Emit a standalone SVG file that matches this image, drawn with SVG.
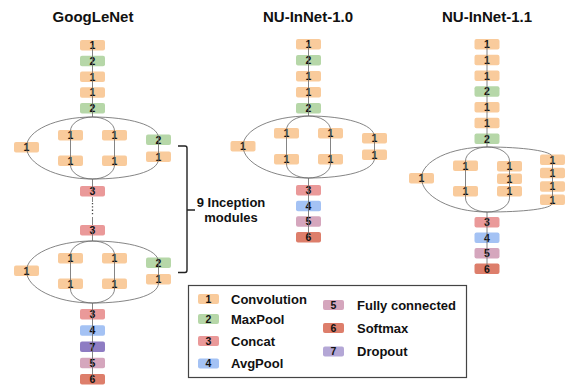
<svg xmlns="http://www.w3.org/2000/svg" width="571" height="385" viewBox="0 0 571 385">
<style>
text{font-family:"Liberation Sans",Arial,sans-serif;font-weight:bold;fill:#111}
.t{font-size:15px;text-anchor:middle}
.d{font-size:10.5px;text-anchor:middle}
.l{font-size:13px}
.c1{fill:#F9CB9C}.c2{fill:#B6D7A8}.c3{fill:#EA9999}.c4{fill:#A4C2F4}.c5{fill:#D5A6BD}.c6{fill:#DD7E6B}.c7{fill:#8E7CC3}.c7l{fill:#B4A7D6}
.ln{fill:none;stroke:#666;stroke-width:0.8}
.br{fill:none;stroke:#222;stroke-width:1.4}
</style>
<defs>
<rect id="b" width="25" height="10.5" rx="2"/>
<rect id="s" width="21" height="10" rx="2"/>
</defs>
<rect width="571" height="385" fill="#fff"/>
<g id="titles">
<text class="t" x="93" y="22">GoogLeNet</text>
<text class="t" x="308" y="22">NU-InNet-1.0</text>
<text class="t" x="487" y="22">NU-InNet-1.1</text>
</g>
<g id="googlenet">
<g id="g1"><use href="#b" class="c1" x="80" y="40"/><text class="d" x="92.5" y="49">1</text></g>
<g id="g2"><use href="#b" class="c2" x="80" y="55.75"/><text class="d" x="92.5" y="64.75">2</text></g>
<g id="g3"><use href="#b" class="c1" x="80" y="71.5"/><text class="d" x="92.5" y="80.5">1</text></g>
<g id="g4"><use href="#b" class="c1" x="80" y="87.25"/><text class="d" x="92.5" y="96.25">1</text></g>
<g id="g5"><use href="#b" class="c2" x="80" y="103"/><text class="d" x="92.5" y="112">2</text></g>
<g id="gm1a"><use href="#b" class="c1" x="14" y="142"/><text class="d" x="26.5" y="151">1</text></g>
<g id="gm1b"><use href="#b" class="c1" x="58" y="130"/><text class="d" x="70.5" y="139">1</text></g>
<g id="gm1c"><use href="#b" class="c1" x="58" y="155.5"/><text class="d" x="70.5" y="164.5">1</text></g>
<g id="gm1d"><use href="#b" class="c1" x="102" y="130"/><text class="d" x="114.5" y="139">1</text></g>
<g id="gm1e"><use href="#b" class="c1" x="102" y="155.5"/><text class="d" x="114.5" y="164.5">1</text></g>
<g id="gm1f"><use href="#b" class="c2" x="146" y="134.5"/><text class="d" x="158.5" y="143.5">2</text></g>
<g id="gm1g"><use href="#b" class="c1" x="146" y="151.5"/><text class="d" x="158.5" y="160.5">1</text></g>
<g id="g6"><use href="#b" class="c3" x="80" y="186"/><text class="d" x="92.5" y="195">3</text></g>
<g id="g7"><use href="#b" class="c3" x="80" y="225"/><text class="d" x="92.5" y="234">3</text></g>
<g id="gm2a"><use href="#b" class="c1" x="14" y="265.5"/><text class="d" x="26.5" y="274.5">1</text></g>
<g id="gm2b"><use href="#b" class="c1" x="58" y="253"/><text class="d" x="70.5" y="262">1</text></g>
<g id="gm2c"><use href="#b" class="c1" x="58" y="278.5"/><text class="d" x="70.5" y="287.5">1</text></g>
<g id="gm2d"><use href="#b" class="c1" x="102" y="253"/><text class="d" x="114.5" y="262">1</text></g>
<g id="gm2e"><use href="#b" class="c1" x="102" y="278.5"/><text class="d" x="114.5" y="287.5">1</text></g>
<g id="gm2f"><use href="#b" class="c2" x="146" y="257.5"/><text class="d" x="158.5" y="266.5">2</text></g>
<g id="gm2g"><use href="#b" class="c1" x="146" y="274"/><text class="d" x="158.5" y="283">1</text></g>
<g id="g8"><use href="#b" class="c3" x="80" y="309"/><text class="d" x="92.5" y="318">3</text></g>
<g id="g9"><use href="#b" class="c4" x="80" y="325.25"/><text class="d" x="92.5" y="334.25">4</text></g>
<g id="g10"><use href="#b" class="c7" x="80" y="341.5"/><text class="d" x="92.5" y="350.5">7</text></g>
<g id="g11"><use href="#b" class="c5" x="80" y="357.75"/><text class="d" x="92.5" y="366.75">5</text></g>
<g id="g12"><use href="#b" class="c6" x="80" y="374"/><text class="d" x="92.5" y="383">6</text></g>
</g>
<g id="nu10">
<g id="n1"><use href="#b" class="c1" x="296" y="39"/><text class="d" x="308.5" y="48">1</text></g>
<g id="n2"><use href="#b" class="c2" x="296" y="55"/><text class="d" x="308.5" y="64">2</text></g>
<g id="n3"><use href="#b" class="c1" x="296" y="71"/><text class="d" x="308.5" y="80">1</text></g>
<g id="n4"><use href="#b" class="c1" x="296" y="87"/><text class="d" x="308.5" y="96">1</text></g>
<g id="n5"><use href="#b" class="c2" x="296" y="103"/><text class="d" x="308.5" y="112">2</text></g>
<g id="nma"><use href="#b" class="c1" x="230.5" y="141"/><text class="d" x="243" y="150">1</text></g>
<g id="nmb"><use href="#b" class="c1" x="274" y="128"/><text class="d" x="286.5" y="137">1</text></g>
<g id="nmc"><use href="#b" class="c1" x="274" y="154"/><text class="d" x="286.5" y="163">1</text></g>
<g id="nmd"><use href="#b" class="c1" x="318" y="128"/><text class="d" x="330.5" y="137">1</text></g>
<g id="nme"><use href="#b" class="c1" x="318" y="154"/><text class="d" x="330.5" y="163">1</text></g>
<g id="nmf"><use href="#b" class="c1" x="362" y="133"/><text class="d" x="374.5" y="142">1</text></g>
<g id="nmg"><use href="#b" class="c1" x="362" y="149.5"/><text class="d" x="374.5" y="158.5">1</text></g>
<g id="n6"><use href="#b" class="c3" x="296" y="185"/><text class="d" x="308.5" y="194">3</text></g>
<g id="n7"><use href="#b" class="c4" x="296" y="200.7"/><text class="d" x="308.5" y="209.7">4</text></g>
<g id="n8"><use href="#b" class="c5" x="296" y="216.3"/><text class="d" x="308.5" y="225.3">5</text></g>
<g id="n9"><use href="#b" class="c6" x="296" y="232"/><text class="d" x="308.5" y="241">6</text></g>
</g>
<g id="nu11">
<g id="m1"><use href="#b" class="c1" x="474.5" y="39"/><text class="d" x="487" y="48">1</text></g>
<g id="m2"><use href="#b" class="c1" x="474.5" y="54.75"/><text class="d" x="487" y="63.75">1</text></g>
<g id="m3"><use href="#b" class="c1" x="474.5" y="70.5"/><text class="d" x="487" y="79.5">1</text></g>
<g id="m4"><use href="#b" class="c2" x="474.5" y="86.25"/><text class="d" x="487" y="95.25">2</text></g>
<g id="m5"><use href="#b" class="c1" x="474.5" y="102"/><text class="d" x="487" y="111">1</text></g>
<g id="m6"><use href="#b" class="c1" x="474.5" y="117.75"/><text class="d" x="487" y="126.75">1</text></g>
<g id="m7"><use href="#b" class="c2" x="474.5" y="133.5"/><text class="d" x="487" y="142.5">2</text></g>
<g id="mma"><use href="#b" class="c1" x="409" y="173"/><text class="d" x="421.5" y="182">1</text></g>
<g id="mmb"><use href="#b" class="c1" x="453" y="160.5"/><text class="d" x="465.5" y="169.5">1</text></g>
<g id="mmc"><use href="#b" class="c1" x="453" y="186"/><text class="d" x="465.5" y="195">1</text></g>
<g id="mmd"><use href="#b" class="c1" x="497" y="161"/><text class="d" x="509.5" y="170">1</text></g>
<g id="mme"><use href="#b" class="c1" x="497" y="173.5"/><text class="d" x="509.5" y="182.5">1</text></g>
<g id="mmf"><use href="#b" class="c1" x="497" y="186"/><text class="d" x="509.5" y="195">1</text></g>
<g id="mmg"><use href="#b" class="c1" x="540" y="154.5"/><text class="d" x="552.5" y="163.5">1</text></g>
<g id="mmh"><use href="#b" class="c1" x="540" y="167.8"/><text class="d" x="552.5" y="176.8">1</text></g>
<g id="mmi"><use href="#b" class="c1" x="540" y="181.2"/><text class="d" x="552.5" y="190.2">1</text></g>
<g id="mmj"><use href="#b" class="c1" x="540" y="194.5"/><text class="d" x="552.5" y="203.5">1</text></g>
<g id="m8"><use href="#b" class="c3" x="474.5" y="217"/><text class="d" x="487" y="226">3</text></g>
<g id="m9"><use href="#b" class="c4" x="474.5" y="232.5"/><text class="d" x="487" y="241.5">4</text></g>
<g id="m10"><use href="#b" class="c5" x="474.5" y="248"/><text class="d" x="487" y="257">5</text></g>
<g id="m11"><use href="#b" class="c6" x="474.5" y="263.5"/><text class="d" x="487" y="272.5">6</text></g>
</g>
<g id="connectors">
<line class="ln" x1="92.5" y1="45" x2="92.5" y2="117"/>
<line class="ln" x1="92.5" y1="179" x2="92.5" y2="191"/>
<line class="ln" x1="92.5" y1="197" x2="92.5" y2="202"/>
<line x1="92.5" y1="203" x2="92.5" y2="216" stroke="#444" stroke-width="1.3" stroke-dasharray="1.3 2"/>
<line class="ln" x1="92.5" y1="217" x2="92.5" y2="225"/>
<line class="ln" x1="92.5" y1="230" x2="92.5" y2="241"/>
<line class="ln" x1="92.5" y1="303" x2="92.5" y2="379"/>
<path class="ln" d="M92.5,117 C56,117 26.5,130.5 26.5,147 C26.5,164 56,179 92.5,179 C129,179 158.5,172 158.5,159 L158.5,138 C158.5,125 129,117 92.5,117 Z"/>
<rect class="ln" x="70.5" y="117" width="44" height="62" rx="22" ry="14"/>
<path class="ln" d="M92.5,241 C56,241 26.5,254.5 26.5,271 C26.5,288 56,303 92.5,303 C129,303 158.5,296 158.5,283 L158.5,262 C158.5,249 129,241 92.5,241 Z"/>
<rect class="ln" x="70.5" y="241" width="44" height="62" rx="22" ry="14"/>
<line class="ln" x1="308.5" y1="44" x2="308.5" y2="116"/>
<line class="ln" x1="308.5" y1="178" x2="308.5" y2="237"/>
<path class="ln" d="M308.5,116 C272,116 243,129.5 243,146 C243,163 272,178 308.5,178 C345,178 374.5,171 374.5,158 L374.5,137 C374.5,124 345,116 308.5,116 Z"/>
<rect class="ln" x="286.5" y="116" width="44" height="62" rx="22" ry="14"/>
<line class="ln" x1="487" y1="44" x2="487" y2="147"/>
<line class="ln" x1="487" y1="212" x2="487" y2="268"/>
<path class="ln" d="M487,147 C451,147 421.5,161 421.5,178 C421.5,196 451,212 487,212 C523,212 552.5,209 552.5,203 L552.5,157 C552.5,151 523,147 487,147 Z"/>
<rect class="ln" x="465.5" y="147" width="44" height="65" rx="22" ry="14"/>
</g>
<g id="bracket">
<path class="br" d="M178,146 L185,146 Q187,146 187,148 L187,270 Q187,272.5 185,272.5 L178,272.5 M187,210 L195,210"/>
<text class="l" x="231" y="207" text-anchor="middle">9 Inception</text>
<text class="l" x="231" y="222" text-anchor="middle">modules</text>
</g>
<g id="legend">
<rect x="188.5" y="285.5" width="278" height="92" fill="#fff" stroke="#444" stroke-width="1.2"/>
<use href="#s" class="c1" x="198" y="294"/><text class="d" x="208.5" y="302.5">1</text><text class="l" x="231" y="303.5">Convolution</text>
<use href="#s" class="c2" x="198" y="314"/><text class="d" x="208.5" y="322.5">2</text><text class="l" x="231" y="323.5">MaxPool</text>
<use href="#s" class="c3" x="198" y="336"/><text class="d" x="208.5" y="344.5">3</text><text class="l" x="231" y="345.5">Concat</text>
<use href="#s" class="c4" x="198" y="358.5"/><text class="d" x="208.5" y="367">4</text><text class="l" x="231" y="368">AvgPool</text>
<use href="#s" class="c5" x="323" y="300"/><text class="d" x="333.5" y="308.5">5</text><text class="l" x="357" y="309.5">Fully connected</text>
<use href="#s" class="c6" x="323" y="323"/><text class="d" x="333.5" y="331.5">6</text><text class="l" x="357" y="332.5">Softmax</text>
<use href="#s" class="c7l" x="323" y="346.5"/><text class="d" x="333.5" y="355">7</text><text class="l" x="357" y="356">Dropout</text>
</g>
</svg>
